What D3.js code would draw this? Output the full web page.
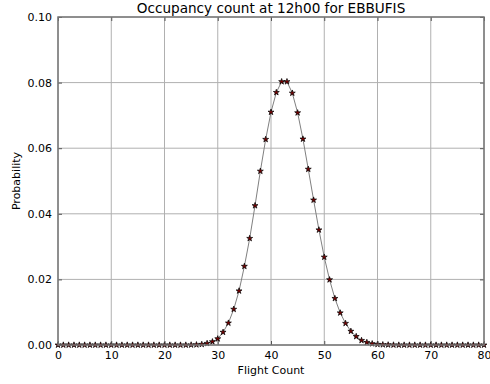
<!DOCTYPE html>
<html>
<head>
<meta charset="utf-8">
<script src="https://cdn.jsdelivr.net/npm/d3@7"></script>
<style>
  body { margin: 0; background: #fff; }
  svg { display: block; font-family: "DejaVu Sans", sans-serif; }
</style>
</head>
<body>
<div id="chart"></div>
<script>
// Flight count 0..80 and probability
const counts = d3.range(0, 81);
const probabilities = [
  0, 0, 0, 0, 0, 0, 0, 0, 0, 0,
  0, 0, 0, 0, 0, 0, 0, 0, 0, 0,
  0, 0, 0, 0, 0, 0.00003, 0.00008, 0.0002, 0.0005, 0.0010,
  0.0019, 0.0039, 0.0067, 0.0109, 0.0165, 0.0240, 0.0325, 0.0425, 0.0530, 0.0627,
  0.0710, 0.0770, 0.0803, 0.0803, 0.0768, 0.0708, 0.0628, 0.0536, 0.0442, 0.0351,
  0.0268, 0.0199, 0.0142, 0.0098, 0.0066, 0.0042, 0.0026, 0.0014, 0.0008, 0.0004,
  0.0002, 0.0001, 0.00005, 0.00002, 0, 0, 0, 0, 0, 0,
  0, 0, 0, 0, 0, 0, 0, 0, 0, 0,
  0
];
const xTicks = [0, 10, 20, 30, 40, 50, 60, 70, 80];
const yTicks = [0, 0.02, 0.04, 0.06, 0.08, 0.10];

const W = 490, H = 384;
const margin = { top: 17, right: 6, bottom: 39, left: 58 };
const width = W - margin.left - margin.right;
const height = H - margin.top - margin.bottom;

const svg = d3.select("#chart").append("svg")
  .attr("width", W).attr("height", H);

const g = svg.append("g")
  .attr("transform", `translate(${margin.left},${margin.top})`);

const x = d3.scaleLinear().domain([0, 80]).range([0, width]);
const y = d3.scaleLinear().domain([0, 0.1]).range([height, 0]);

// grid
g.selectAll(".vgrid").data(xTicks).enter().append("line")
  .attr("x1", d => x(d)).attr("x2", d => x(d))
  .attr("y1", 0).attr("y2", height)
  .attr("stroke", "#b0b0b0").attr("stroke-width", 1);
g.selectAll(".hgrid").data(yTicks).enter().append("line")
  .attr("x1", 0).attr("x2", width)
  .attr("y1", d => y(d)).attr("y2", d => y(d))
  .attr("stroke", "#b0b0b0").attr("stroke-width", 1);

// line
const line = d3.line().x((d, i) => x(counts[i])).y(d => y(d));
g.append("path")
  .datum(probabilities)
  .attr("d", line)
  .attr("fill", "none")
  .attr("stroke", "#808080")
  .attr("stroke-width", 1);

// star markers
const star = d3.symbol().type(d3.symbolStar).size(11);
g.selectAll(".pt").data(probabilities).enter().append("path")
  .attr("d", star)
  .attr("transform", (d, i) => `translate(${x(counts[i])},${y(d)})`)
  .attr("fill", "#7a0000")
  .attr("stroke", "#000")
  .attr("stroke-width", 0.7);

// axes with inward ticks, on all four sides
const xAxisB = d3.axisBottom(x).tickValues(xTicks).tickSize(-4).tickPadding(6).tickFormat(d3.format("d"));
const xAxisT = d3.axisTop(x).tickValues(xTicks).tickSize(-4).tickFormat("");
const yAxisL = d3.axisLeft(y).tickValues(yTicks).tickSize(-4).tickPadding(6).tickFormat(d3.format(".2f"));
const yAxisR = d3.axisRight(y).tickValues(yTicks).tickSize(-4).tickFormat("");

function style(sel) {
  sel.select(".domain").remove();
  sel.selectAll(".tick line").attr("stroke", "#555");
  sel.selectAll(".tick text").attr("font-size", 11).attr("fill", "#000")
    .attr("font-family", "DejaVu Sans, sans-serif");
}
g.append("g").attr("transform", `translate(0,${height})`).call(xAxisB).call(style);
g.append("g").call(xAxisT).call(style);
g.append("g").call(yAxisL).call(style);
g.append("g").attr("transform", `translate(${width},0)`).call(yAxisR).call(style);

// frame
g.append("rect")
  .attr("width", width).attr("height", height)
  .attr("fill", "none").attr("stroke", "#777").attr("stroke-width", 1.5);

// labels
svg.append("text")
  .attr("x", margin.left + width / 2).attr("y", 13)
  .attr("text-anchor", "middle").attr("font-size", 13.6)
  .text("Occupancy count at 12h00 for EBBUFIS");

svg.append("text")
  .attr("x", margin.left + width / 2).attr("y", 374)
  .attr("text-anchor", "middle").attr("font-size", 11)
  .text("Flight Count");

svg.append("text")
  .attr("transform", `translate(20,${margin.top + height / 2}) rotate(-90)`)
  .attr("text-anchor", "middle").attr("font-size", 11)
  .text("Probability");
</script>
</body>
</html>
